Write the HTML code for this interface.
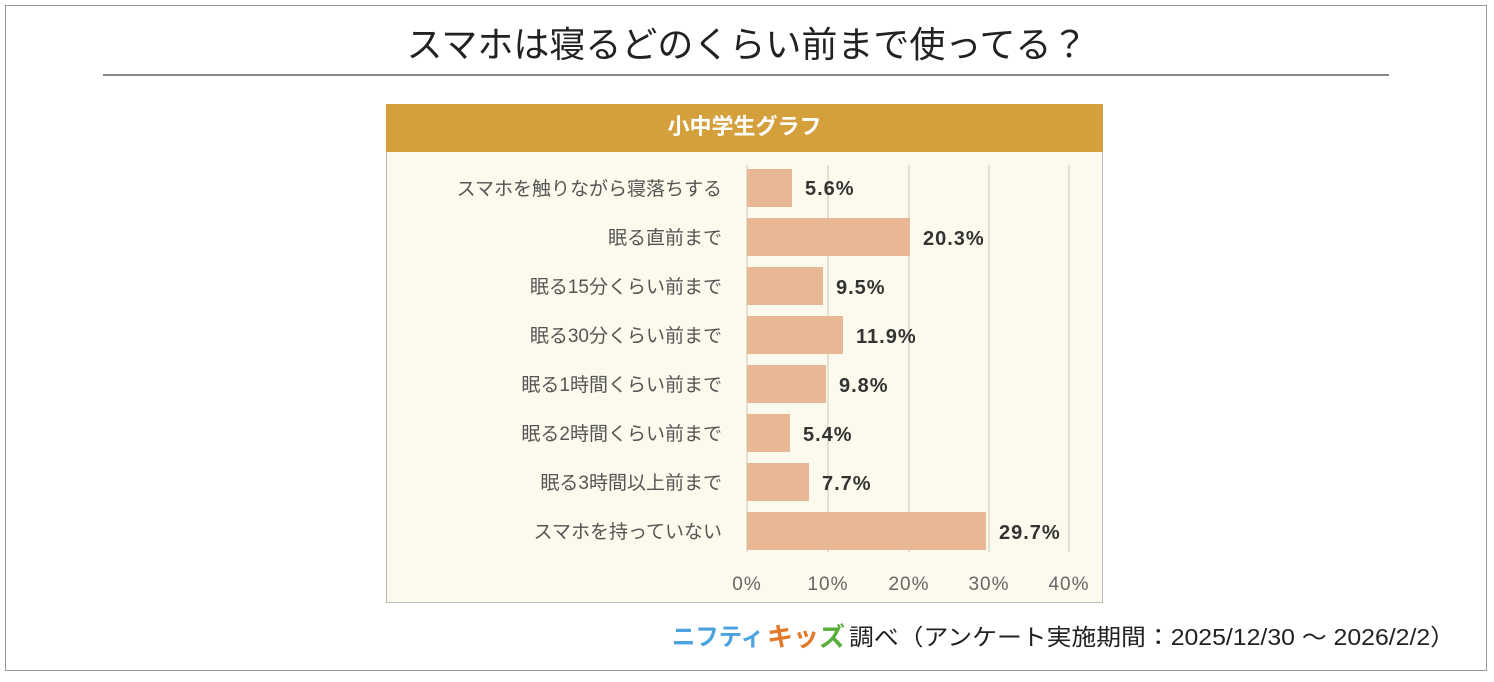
<!DOCTYPE html>
<html><head><meta charset="utf-8"><style>
body{margin:0;width:1494px;height:682px;background:#fff;position:relative;overflow:hidden;font-family:"Liberation Sans","Noto Sans CJK JP",sans-serif}
.a{position:absolute;white-space:nowrap}
</style></head><body>
<div class="a" style="left:5px;top:5px;width:1482px;height:666px;border:1px solid #999;box-sizing:border-box"></div>
<div class="a" style="left:0;width:1494px;top:21px;text-align:center;font-size:36px;color:#222;line-height:48px">スマホは寝るどのくらい前まで使ってる？</div>
<div class="a" style="left:103px;top:74px;width:1286px;height:2px;background:#888"></div>
<div class="a" style="left:386px;top:104px;width:717px;height:499px;background:#FCFAEC;border:1px solid #bbb;box-sizing:border-box"></div>
<div class="a" style="left:386px;top:104px;width:717px;height:48px;background:#D4A03C;color:#fff;font-weight:bold;font-size:22px;text-align:center;line-height:46px">小中学生グラフ</div>
<svg class="a" style="left:0;top:0" width="1494" height="682" font-family="Liberation Sans, Noto Sans CJK JP, sans-serif">
<g stroke="#ddd8c8" stroke-width="1.5">
<line x1="747" y1="165" x2="747" y2="552"/><line x1="828" y1="165" x2="828" y2="552"/><line x1="909" y1="165" x2="909" y2="552"/><line x1="989" y1="165" x2="989" y2="552"/><line x1="1069" y1="165" x2="1069" y2="552"/>
</g>
<g fill="#E8B896">
<rect x="747" y="169" width="45" height="38"/>
<rect x="747" y="218" width="163" height="38"/>
<rect x="747" y="267" width="76" height="38"/>
<rect x="747" y="316" width="96" height="38"/>
<rect x="747" y="365" width="79" height="38"/>
<rect x="747" y="414" width="43" height="38"/>
<rect x="747" y="463" width="62" height="38"/>
<rect x="747" y="512" width="239" height="38"/>
</g>
<g font-size="19" fill="#555" text-anchor="end">
<text x="722" y="195">スマホを触りながら寝落ちする</text>
<text x="722" y="244">眠る直前まで</text>
<text x="722" y="293">眠る15分くらい前まで</text>
<text x="722" y="342">眠る30分くらい前まで</text>
<text x="722" y="391">眠る1時間くらい前まで</text>
<text x="722" y="440">眠る2時間くらい前まで</text>
<text x="722" y="489">眠る3時間以上前まで</text>
<text x="722" y="538">スマホを持っていない</text>
</g>
<g font-size="20" font-weight="bold" fill="#333" letter-spacing="1">
<text x="805" y="195">5.6%</text>
<text x="923" y="245">20.3%</text>
<text x="836" y="294">9.5%</text>
<text x="856" y="343">11.9%</text>
<text x="839" y="392">9.8%</text>
<text x="803" y="441">5.4%</text>
<text x="822" y="490">7.7%</text>
<text x="999" y="539">29.7%</text>
</g>
<g font-size="19" fill="#666" text-anchor="middle" letter-spacing="1">
<text x="747" y="590">0%</text><text x="828" y="590">10%</text><text x="909" y="590">20%</text><text x="989" y="590">30%</text><text x="1069" y="590">40%</text>
</g>
<text x="672" y="645" font-size="24" font-weight="bold" fill="#4AA3DF" textLength="92" lengthAdjust="spacingAndGlyphs">ニフティ</text>
<text x="767" y="646" font-size="26" font-weight="bold" fill="#E07A2A" textLength="78" lengthAdjust="spacingAndGlyphs">キッ<tspan fill="#5AAE3C">ズ</tspan></text>
<text x="849" y="645" font-size="23" fill="#222" textLength="606" lengthAdjust="spacingAndGlyphs">調べ（アンケート実施期間：2025/12/30 ～ 2026/2/2）</text>
</svg>
</body></html>
